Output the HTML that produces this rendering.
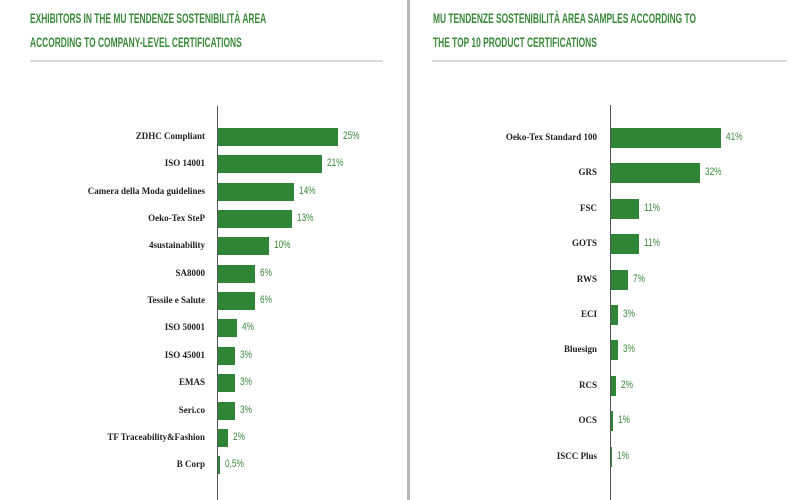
<!DOCTYPE html>
<html><head><meta charset="utf-8"><style>
body{margin:0;width:800px;height:500px;background:#fff;position:relative;overflow:hidden;font-family:"Liberation Serif",serif}
.t{position:absolute;color:#3a8a3a;font-family:"Liberation Sans Narrow","Liberation Sans",sans-serif;font-size:14px;font-weight:bold;white-space:nowrap;transform:scaleX(0.6);transform-origin:left}
.rule{position:absolute;height:2px;background:#d5ddd5;top:60px}
.ax{position:absolute;width:1px;background:#555}
.b{position:absolute;background:#2f8535}
.l{position:absolute;font-size:9px;font-weight:bold;color:#222;text-align:right;width:200px;white-space:nowrap}
.v{position:absolute;font-size:11px;color:#3a8a3a;font-family:"Liberation Sans",sans-serif;transform:scaleX(0.75);transform-origin:left;white-space:nowrap}
</style></head><body>
<div style="position:absolute;left:407px;top:0;width:3px;height:500px;background:#b8b8b8"></div>
<div class="t" style="left:30px;top:10px">EXHIBITORS IN THE MU TENDENZE SOSTENIBILITÀ AREA</div>
<div class="t" style="left:30px;top:34px">ACCORDING TO COMPANY-LEVEL CERTIFICATIONS</div>
<div class="t" style="left:433px;top:10px">MU TENDENZE SOSTENIBILITÀ AREA SAMPLES ACCORDING TO</div>
<div class="t" style="left:433px;top:34px">THE TOP 10 PRODUCT CERTIFICATIONS</div>
<div class="rule" style="left:30px;width:353px"></div>
<div class="rule" style="left:432px;width:355px"></div>
<div class="ax" style="left:217px;top:106px;height:394px"></div>
<div class="ax" style="left:610px;top:105px;height:395px"></div>
<div id="c"></div>
<script>
var L=[["ZDHC Compliant",338,"25%"],["ISO 14001",322,"21%"],["Camera della Moda guidelines",294,"14%"],["Oeko-Tex SteP",292,"13%"],["4sustainability",269,"10%"],["SA8000",255,"6%"],["Tessile e Salute",255,"6%"],["ISO 50001",237,"4%"],["ISO 45001",235,"3%"],["EMAS",235,"3%"],["Seri.co",235,"3%"],["TF Traceability&Fashion",228,"2%"],["B Corp",220,"0,5%"]];
var R=[["Oeko-Tex Standard 100",721,"41%"],["GRS",700,"32%"],["FSC",639,"11%"],["GOTS",639,"11%"],["RWS",628,"7%"],["ECI",618,"3%"],["Bluesign",618,"3%"],["RCS",616,"2%"],["OCS",613,"1%"],["ISCC Plus",612,"1%"]];
var h="";
L.forEach(function(d,i){var c=137+i*27.35;h+='<div class="b" style="left:218px;top:'+(c-9)+'px;width:'+(d[1]-218)+'px;height:18px"></div><div class="l" style="left:5px;top:'+(c-6)+'px">'+d[0]+'</div><div class="v" style="left:'+(d[1]+5)+'px;top:'+(c-7)+'px">'+d[2]+'</div>';});
R.forEach(function(d,i){var c=138+i*35.4;h+='<div class="b" style="left:611px;top:'+(c-10)+'px;width:'+(d[1]-611)+'px;height:20px"></div><div class="l" style="left:397px;top:'+(c-6)+'px">'+d[0]+'</div><div class="v" style="left:'+(d[1]+5)+'px;top:'+(c-7)+'px">'+d[2]+'</div>';});
document.getElementById("c").innerHTML=h;
</script>
</body></html>
